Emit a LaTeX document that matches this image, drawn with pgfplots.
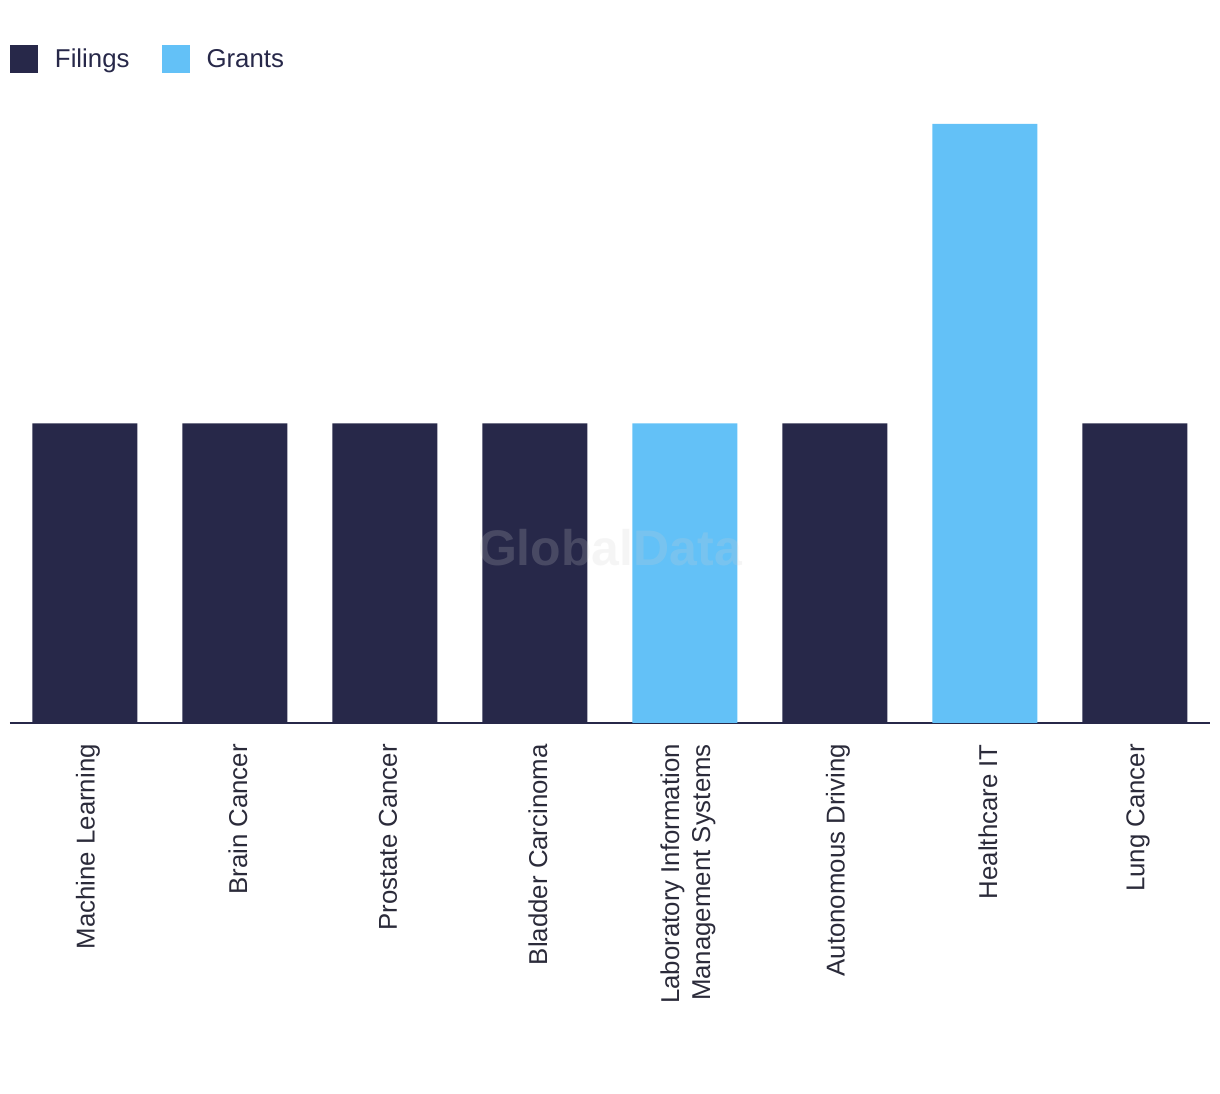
\documentclass[border=0pt]{standalone}
\usepackage{pgfplots}
\pgfplotsset{compat=1.18}
\usepackage{fontspec}
\setmainfont{Liberation Sans}
\definecolor{navy}{HTML}{272849}
\definecolor{sky}{HTML}{63C1F7}
\definecolor{labeltxt}{HTML}{2B2B3A}
\begin{document}
\begin{tikzpicture}
\useasboundingbox (0pt,0pt) rectangle (1220pt,1094pt);
\begin{axis}[
  name=ax,
  at={(10pt,371pt)}, anchor=south west,
  scale only axis, width=1200pt, height=599pt,
  xmin=-0.5, xmax=7.5, ymin=0, ymax=2,
  ybar stacked, bar width=105pt,
  axis y line=none,
  axis x line=bottom,
  x axis line style={-, line width=2pt, draw=navy},
  xtick=data,
  xtick style={draw=none},
  major tick length=0pt,
  xticklabels={Machine Learning, Brain Cancer, Prostate Cancer, Bladder Carcinoma, {Laboratory Information\\Management Systems}, Autonomous Driving, Healthcare IT, Lung Cancer},
  xticklabel style={rotate=90, anchor=east, align=right, inner sep=0pt,
    font=\fontsize{25.8}{31}\selectfont, text=labeltxt, yshift=-3pt},
  xticklabel shift=21pt,
  legend columns=2,
  legend style={at={(0,1.1085)}, anchor=west, draw=none, fill=none,
    inner sep=0pt, outer sep=0pt,
    nodes={inner sep=0pt, text=navy, font=\fontsize{25.8}{30}\selectfont},
    /tikz/every odd column/.append style={column sep=17pt},
    /tikz/every even column/.append style={column sep=32pt}},
  legend image code/.code={\fill[#1] (0pt,-14pt) rectangle (28pt,14pt);},
]
\addplot[fill=navy, draw=none] coordinates {(0,1) (1,1) (2,1) (3,1) (4,0) (5,1) (6,0) (7,1)};
\addplot[fill=sky, draw=none] coordinates {(0,0) (1,0) (2,0) (3,0) (4,1) (5,0) (6,2) (7,0)};
\legend{Filings, Grants}
\end{axis}
\node[text=gray!38, opacity=0.2, font=\bfseries\fontsize{50}{60}\selectfont] at ([xshift=600pt, yshift=175pt]ax.south west) {GlobalData};
\end{tikzpicture}
\end{document}
